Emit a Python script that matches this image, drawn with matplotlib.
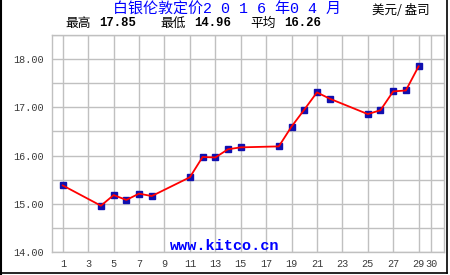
import numpy as np
import matplotlib
matplotlib.use('Agg')
import matplotlib.pyplot as plt
from matplotlib.lines import Line2D

plt.rcParams['font.family'] = ['Noto Sans CJK SC', 'DejaVu Sans']

# April 2016 London silver fix (USD / oz), trading days only
days = [1, 4, 5, 6, 7, 8, 11, 12, 13, 14, 15, 18, 19, 20, 21, 22, 25, 26, 27, 28, 29]
prices = [15.38, 14.96, 15.18, 15.08, 15.21, 15.16, 15.55, 15.97, 15.96, 16.13, 16.17,
          16.19, 16.60, 16.95, 17.31, 17.18, 16.86, 16.94, 17.33, 17.35, 17.85]
x_ticks = [1, 3, 5, 7, 9, 11, 13, 15, 17, 19, 21, 23, 25, 27, 29, 30]
y_ticks = [14.0, 15.0, 16.0, 17.0, 18.0]

title = '白银伦敦定价2 0 1 6 年0 4 月'
unit = '美元/ 盎司'
stats = [('最高', '17.85'), ('最低', '14.96'), ('平均', '16.26')]

fig = plt.figure(figsize=(4.5, 2.75), dpi=100)
ax = fig.add_axes([52 / 450, 1 - 252 / 275, 392 / 450, 217 / 275])

grid_c = '#c0c0c0'
ax.set_xlim(0.15, 31)
ax.set_ylim(14.0, 18.5)
ax.set_xticks(x_ticks)
ax.set_xticklabels([str(d) for d in x_ticks])
ax.set_yticks(y_ticks)
ax.set_yticklabels(['%.2f' % v for v in y_ticks])
ax.set_yticks(np.arange(14.5, 18.6, 1.0), minor=True)
ax.grid(True, which='both', color=grid_c, lw=1)
ax.set_axisbelow(True)
for s in ax.spines.values():
    s.set_color(grid_c)
    s.set_linewidth(1)
ax.tick_params(which='both', length=0, labelsize=7.3, labelcolor='#3a3a3a')
ax.tick_params(axis='x', pad=5)
ax.tick_params(axis='y', pad=6)
for lbl in ax.get_xticklabels() + ax.get_yticklabels():
    lbl.set_family('Liberation Mono')

ax.plot(days, prices, '-', color='#ff0000', lw=1.3, zorder=3)
ax.plot(days, prices, 's', color='#1010b0', ms=4, mec='#1010b0', zorder=2)

fig.text(225 / 450, 1 - 253 / 275, 'www.kitco.cn', ha='center', va='bottom',
         family='Liberation Mono', weight='bold', fontsize=11, color='#0000ff')

# mono digits/spaces give the wide spacing of the original title
fig.text(113 / 450, 1 - 10 / 275, title, ha='left', va='center', color='#0000ff',
         fontsize=10.8, family=['Liberation Mono', 'Noto Sans CJK SC'])
fig.text(401 / 450, 1 - 10 / 275, unit, ha='center', va='center', color='black', fontsize=9)

xs = [65, 160, 250]
for (lab, val), x0 in zip(stats, xs):
    fig.text(x0 / 450, 1 - 23 / 275, lab, ha='left', va='center', fontsize=9.2)
    fig.text((x0 + 34) / 450, 1 - 23 / 275, val, ha='left', va='center', fontsize=8.8,
             family='Liberation Mono', weight='bold')

# outer frame: left, right and bottom edges
fig.add_artist(Line2D([0.5 / 450, 0.5 / 450], [0, 1], color='black', lw=1.5, transform=fig.transFigure))
fig.add_artist(Line2D([447 / 450, 447 / 450], [1 - 273 / 275, 1], color='black', lw=1.2, transform=fig.transFigure))
fig.add_artist(Line2D([0, 447 / 450], [1 - 273 / 275, 1 - 273 / 275], color='black', lw=1.2, transform=fig.transFigure))

fig.savefig('out.png', dpi=100)
